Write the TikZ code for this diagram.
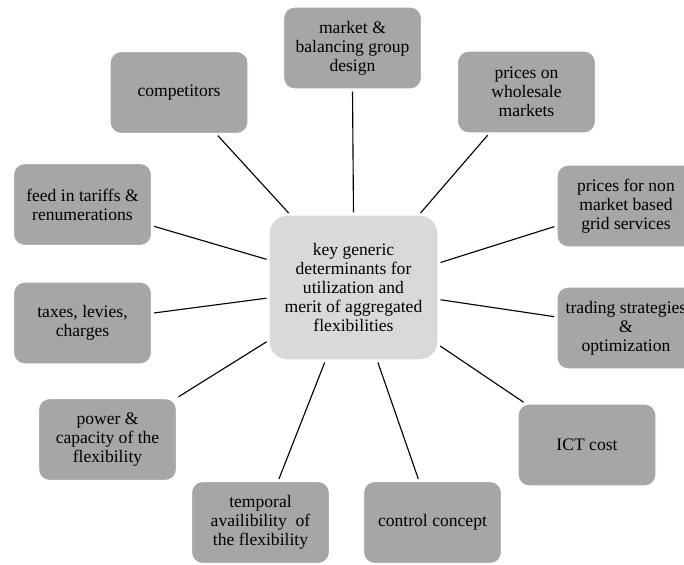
\documentclass[tikz,border=0pt]{standalone}
\usepackage{fontspec}
\setmainfont{Liberation Serif}
\usepackage{xcolor}
\usepackage{tikz}
\usetikzlibrary{positioning,calc}
\definecolor{boxgray}{RGB}{166,166,166}
\definecolor{coregray}{RGB}{217,217,217}

\begin{document}
\begin{tikzpicture}[
  x=0.025cm,y=-0.025cm,
  factor/.style={draw=white,line width=.8pt,fill=boxgray,rounded corners=8pt,minimum width=3.45cm,minimum height=2.05cm,align=center,inner sep=1pt,font=\fontsize{12.5}{13.4}\selectfont},
  core/.style={factor,fill=coregray,rounded corners=13pt,minimum width=4.22cm,minimum height=3.62cm},
  link/.style={draw=black,line width=.8pt,shorten <=1.5pt,shorten >=1.5pt}
]
\useasboundingbox (0,0) rectangle (684,565);
\clip (0,0) rectangle (684,565);
\node[core] (c) at (353.5,287.5) {key generic\\determinants for\\utilization and\\merit of aggregated\\flexibilities};
\node[factor] (comp) at (179,92.5) {competitors};
\node[factor] (market) at (352.5,48) {market \&\\balancing group\\design};
\node[factor] (whole) at (526.5,92) {prices on\\wholesale\\markets};
\node[factor] (nonmkt) at (626,206) {prices for non\\market based\\grid services};
\node[factor] (trade) at (626,328) {trading strategies\\\&\\optimization};
\node[factor] (ict) at (587,445) {ICT cost};
\node[factor] (control) at (432.5,522.5) {control concept};
\node[factor] (temporal) at (260.5,522.5) {temporal\\availibility\ \ of\\the flexibility};
\node[factor] (power) at (107.5,439.5) {power \&\\capacity of the\\flexibility};
\node[factor] (taxes) at (82.5,323) {taxes, levies,\\charges};
\node[factor] (feed) at (82.5,204.5) {feed in tariffs \&\\renumerations};
% spokes from each factor to the core
\foreach \n/\a/\b in {comp/-48.9/131.8, market/-90/90, whole/228.2/48.7,
  nonmkt/196.5/16.4, trade/171.2/-8.2, ict/146.1/-34.5, control/108.8/-72,
  temporal/67.1/249, power/31.4/212, taxes/8.1/187.7, feed/-17.7/162.2}
  \draw[link] (\n.\a) -- (c.\b);
\end{tikzpicture}
\end{document}
